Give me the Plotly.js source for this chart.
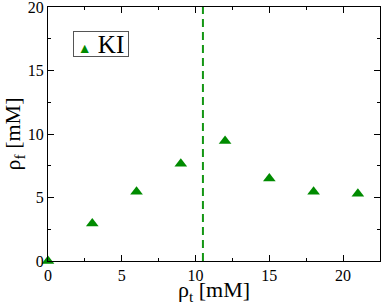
<!DOCTYPE html>
<html>
<head>
<meta charset="utf-8">
<script src="https://cdn.plot.ly/plotly-3.0.1.min.js"></script>
<style>html,body{margin:0;padding:0;background:#fff;}#chart{width:382px;height:305px;}</style>
</head>
<body>
<div id="chart"></div>
<script>
const rhoT = [0, 3, 6, 9, 12, 15, 18, 21];
const rhoF = [0, 2.95, 5.45, 7.65, 9.45, 6.5, 5.45, 5.3];
const seriesName = "KI";
const markerX = [10.5, 10.5];
const markerY = [0, 20];

const green = "rgb(0,139,0)";
const font = "Liberation Serif, Times New Roman, serif";

const traces = [
  {
    x: markerX, y: markerY, mode: "lines", showlegend: false, hoverinfo: "skip",
    line: {color: "rgb(20,150,20)", width: 2, dash: "8px,5px"}
  },
  {
    x: rhoT, y: rhoF, mode: "markers", name: seriesName, cliponaxis: false, showlegend: false,
    marker: {symbol: "triangle-up", size: 11, color: green}
  }
];

const axisCommon = {
  showgrid: false, zeroline: false, showline: true, mirror: "ticks",
  linecolor: "#000", linewidth: 1, ticks: "inside", ticklen: 6, tickwidth: 1,
  tickcolor: "#000", tickfont: {family: font, size: 16, color: "#000"},
  ticklabeloverflow: "allow"
};

const layout = {
  width: 382, height: 305,
  margin: {l: 48, r: 2, t: 7, b: 44},
  paper_bgcolor: "#fff", plot_bgcolor: "#fff",
  showlegend: false,
  annotations: [{
    xref: "paper", yref: "paper", x: 0.075, y: 0.906, xanchor: "left", yanchor: "top",
    showarrow: false, width: 54, height: 24, align: "center", valign: "middle",
    bordercolor: "#555", borderwidth: 1, borderpad: 0, bgcolor: "#fff",
    text: "<span style='color:" + green + ";font-size:14px'>▲</span> " + seriesName,
    font: {family: font, size: 25, color: "#000"}
  }],
  xaxis: Object.assign({}, axisCommon, {
    range: [0, 22.5], tick0: 0, dtick: 5,
    minor: {dtick: 2.5, ticks: "inside", ticklen: 3, tickcolor: "#000"},
    title: {text: "ρ<sub>t</sub> [mM]", font: {family: font, size: 22, color: "#000"}, standoff: 7}
  }),
  yaxis: Object.assign({}, axisCommon, {
    range: [0, 20], tick0: 0, dtick: 5,
    minor: {dtick: 2.5, ticks: "inside", ticklen: 3, tickcolor: "#000"},
    title: {text: "ρ<sub>f</sub> [mM]", font: {family: font, size: 22, color: "#000"}, standoff: 6}
  })
};

Plotly.newPlot("chart", traces, layout, {displayModeBar: false, staticPlot: true});
</script>
</body>
</html>
